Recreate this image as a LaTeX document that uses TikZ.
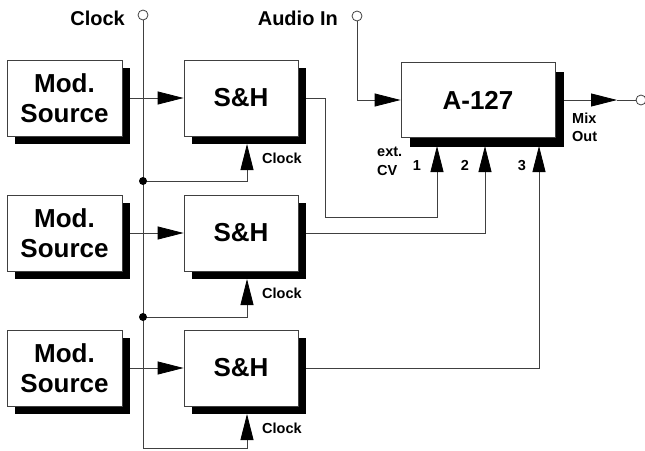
\documentclass[tikz,border=0pt]{standalone}
\usepackage{fontspec}
\setmainfont{Liberation Sans}
\usetikzlibrary{arrows.meta}
\usetikzlibrary{shadows}

\begin{document}
\begin{tikzpicture}[x=1pt, y=-1pt,
    box/.style={draw=black!75, fill=white, line width=0.8pt, align=center,
      font=\bfseries\fontsize{26}{30}\selectfont, minimum height=76pt,
      drop shadow={shadow xshift=#1, shadow yshift=-#1, fill=black, opacity=1}},
    box/.default=8pt,
    src node/.style={box, minimum width=115pt},
    sh node/.style={box, minimum width=114pt},
    wire/.style={draw=black!75, line width=0.8pt},
    sig/.style={wire, -{Triangle[length=26pt, width=13pt, black]}},
    jack/.style={circle, draw=black!75, line width=0.8pt, fill=white, minimum size=10pt, inner sep=0pt},
    big label/.style={font=\bfseries\fontsize{20}{24}\selectfont, inner sep=0pt},
    small label/.style={font=\bfseries\fontsize{14.5}{18.5}\selectfont, inner sep=0pt, align=left},
    ]
  \useasboundingbox (0,0) rectangle (645,450);

  % modulation sources
  \node[src node] (src1) at (64.5,98) {Mod.\\Source};
  \node[src node] (src2) at (64.5,233) {Mod.\\Source};
  \node[src node] (src3) at (64.5,368) {Mod.\\Source};

  % sample and holds
  \node[sh node] (sh1) at (241,98) {S\&H};
  \node[sh node] (sh2) at (241,233) {S\&H};
  \node[sh node] (sh3) at (241,368) {S\&H};

  \node[box=9pt, minimum width=154pt, minimum height=75pt] (a127) at (478,100) {A-127};

  % jacks and labels
  \node[jack] (clkin) at (143,15) {};
  \node[big label, anchor=base east] (clklbl) at (125,25) {Clock};
  \node[jack] (audin) at (357,16) {};
  \node[big label, anchor=base east] (audlbl) at (338,25) {Audio In};
  \node[jack] (mixout) at (641,100) {};

  \node[small label, anchor=base west] (clk1) at (262,163) {Clock};
  \node[small label, anchor=base west] (clk2) at (262,298) {Clock};
  \node[small label, anchor=base west] (clk3) at (262,433) {Clock};
  \node[small label, anchor=north west] (extcv) at (377,147) {ext.\\CV};
  \node[small label, anchor=base] (n1) at (417,170) {1};
  \node[small label, anchor=base] (n2) at (465,170) {2};
  \node[small label, anchor=base] (n3) at (522,170) {3};
  \node[small label, anchor=north west] (mixlbl) at (572,112.5) {Mix\\Out};

  \coordinate (j1) at (143,181);
  \coordinate (j2) at (143,317);
  \coordinate (clkbot) at (143,448);
  \coordinate (ck1) at (247,144);
  \coordinate (ck2) at (247,279);
  \coordinate (ck3) at (247,414);
  \coordinate (cv1) at (437,146);
  \coordinate (cv2) at (485,146);
  \coordinate (cv3) at (539,146);
  \coordinate (mixtip) at (617,100);

  % clock bus
  \draw[sig] (clkin.south) -- (clkbot) -| (ck3);
  \draw[sig] (j1) -| (ck1);
  \draw[sig] (j2) -| (ck2);
  \fill[black] (j1) circle (4pt);
  \fill[black] (j2) circle (4pt);

  \draw[sig] ([xshift=8pt]src1.east) -- (sh1.west);
  \draw[sig] ([xshift=8pt]src2.east) -- (sh2.west);
  \draw[sig] ([xshift=8pt]src3.east) -- (sh3.west);

  \draw[sig] ([xshift=8pt]sh1.east) -| ++(19,119) -| (cv1);
  \draw[sig] ([xshift=8pt]sh2.east) -| (cv2);
  \draw[sig] ([xshift=8pt]sh3.east) -| (cv3);

  \draw[sig] (audin.south) |- (a127.west);
  \draw[sig] ([xshift=9pt]a127.east) -- (mixtip);
  \draw[wire] (mixtip) -- (mixout.west);
\end{tikzpicture}
\end{document}
